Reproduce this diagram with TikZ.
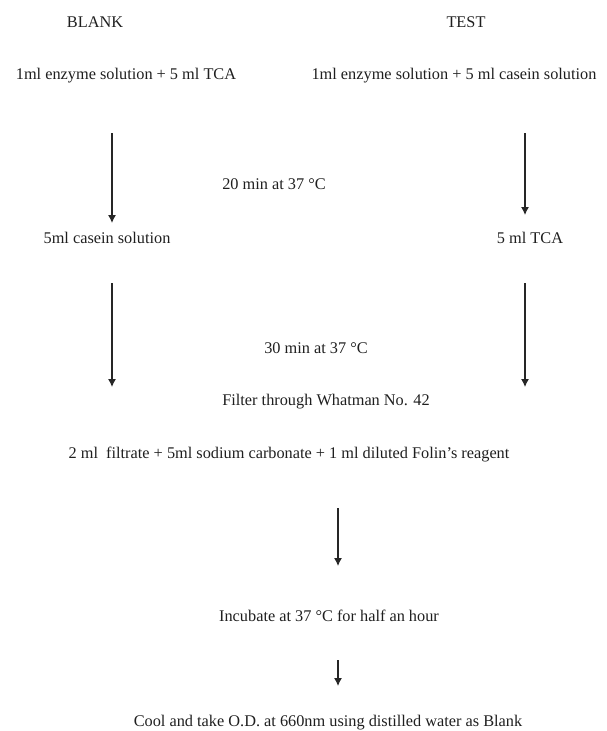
\documentclass[tikz,border=0pt]{standalone}
\usepackage{fontspec}
\setmainfont{Liberation Serif}
\usetikzlibrary{arrows.meta}
\begin{document}
\begin{tikzpicture}[x=1pt,y=-1pt,
  lbl/.style={inner sep=0pt,font=\fontsize{16.3}{19}\selectfont,text=black!88},
  flow/.style={line width=1.1pt,draw=black!85,-{Latex[length=8pt,width=8pt]}}]
\useasboundingbox (0,0) rectangle (606,731);
\node[lbl] (blank) at (95,22) {BLANK};
\node[lbl] (test) at (466,22) {TEST};
\node[lbl] (l1) at (126,76) {1ml enzyme solution + 5 ml TCA};
\node[lbl] (r1) at (454,76) {1ml enzyme solution + 5 ml casein solution};
\node[lbl] (t20) at (274,184) {20 min at 37 °C};
\node[lbl] (l2) at (107,238) {5ml casein solution};
\node[lbl] (r2) at (530,238) {5 ml TCA};
\node[lbl] (t30) at (316,348) {30 min at 37 °C};
\node[lbl] (filt) at (326,402) {Filter through Whatman No. 42};
\node[lbl] (mix) at (289,455) {2 ml\ \ filtrate + 5ml sodium carbonate + 1 ml diluted Folin's reagent};
\node[lbl] (inc) at (329,616) {Incubate at 37 °C for half an hour};
\node[lbl] (cool) at (328,723) {Cool and take O.D. at 660nm using distilled water as Blank};
\coordinate (a1s) at (112,133); \coordinate (a1e) at (112,223);
\coordinate (b1s) at (525,133); \coordinate (b1e) at (525,215);
\coordinate (a2s) at (112,283); \coordinate (a2e) at (112,387);
\coordinate (b2s) at (525,283); \coordinate (b2e) at (525,387);
\coordinate (c1s) at (338,508); \coordinate (c1e) at (338,566);
\coordinate (c2s) at (338,660); \coordinate (c2e) at (338,686);
\draw[flow] (a1s) -- (a1e);
\draw[flow] (b1s) -- (b1e);
\draw[flow] (a2s) -- (a2e);
\draw[flow] (b2s) -- (b2e);
\draw[flow] (c1s) -- (c1e);
\draw[flow] (c2s) -- (c2e);
\end{tikzpicture}
\end{document}
